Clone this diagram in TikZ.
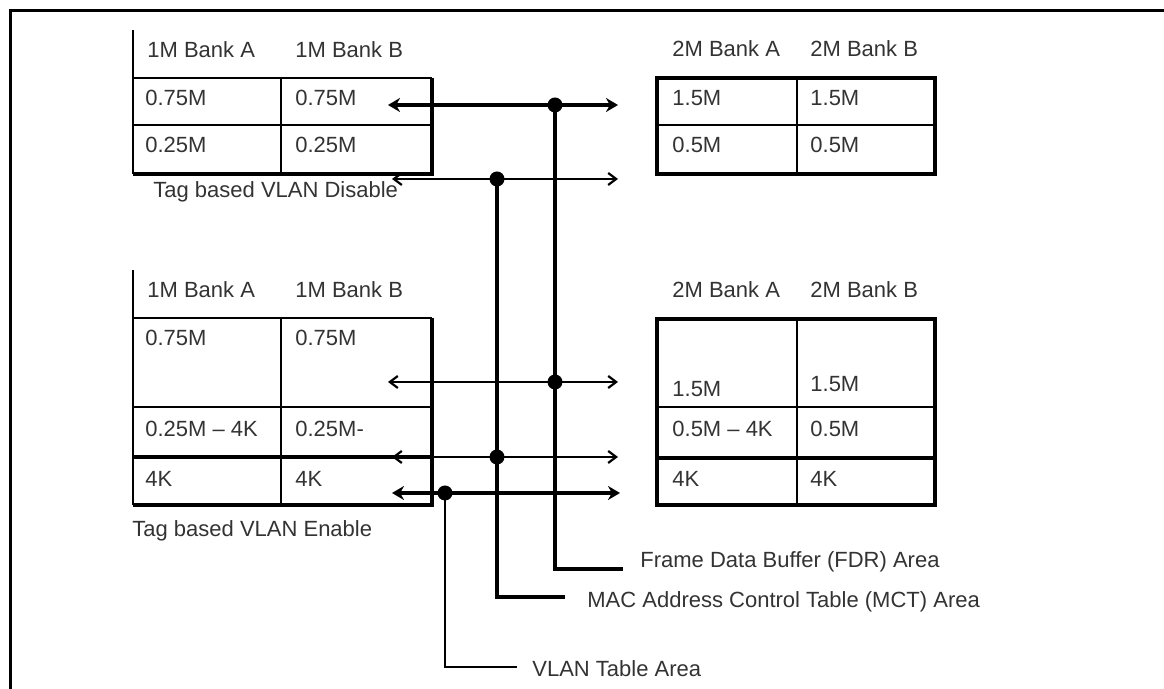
\documentclass[tikz,border=0pt]{standalone}
\usepackage{fontspec}
\setmainfont{Liberation Sans}
\usetikzlibrary{arrows.meta}

\begin{document}
\begin{tikzpicture}[x=0.5pt, y=-0.5pt,
  txt/.style={anchor=base west, inner sep=0pt, text=black!80, font=\fontsize{11}{13}\selectfont},
  thin line/.style={line width=1.1pt},
  thick line/.style={line width=2pt},
  wide bus/.style={line width=2pt, {Stealth[length=6pt,width=7pt]}-{Stealth[length=6pt,width=7pt]}},
  narrow bus/.style={line width=1.1pt, {Straight Barb[length=4pt,width=6pt]}-{Straight Barb[length=4pt,width=6pt]}},
  dot/.style={circle, fill, inner sep=0pt, minimum size=7.5pt}]
  \useasboundingbox (0,0) rectangle (1164,689);
  \clip (0,0) rectangle (1164,689);

  % frame
  \draw[line width=1.5pt] (10,700) -- (10,10.5) -- (1170,10.5);

  % 1M banks, tag based VLAN disabled
  \draw[thin line] (133,30) -- (133,174);
  \draw[thin line] (133,78) -- (432,78);
  \draw[thin line] (133,125) -- (432,125);
  \draw[thin line] (281,78) -- (281,174);
  \draw[thick line] (133,174) -- (432,174) -- (432,78);
  \node[txt] (dhA) at (147,58) {1M Bank A};
  \node[txt] (dhB) at (295,58) {1M Bank B};
  \node[txt] (dA1) at (145,106) {0.75M};
  \node[txt] (dB1) at (295,106) {0.75M};
  \node[txt] (dA2) at (145,153) {0.25M};
  \node[txt] (dB2) at (295,153) {0.25M};
  \node[txt] (dcap) at (153,198) {Tag based VLAN Disable};

  % 2M banks, tag based VLAN disabled
  \draw[thick line] (657,78) rectangle (935,174);
  \draw[thin line] (657,125) -- (935,125);
  \draw[thin line] (797,78) -- (797,174);
  \node[txt] (DhA) at (672,57) {2M Bank A};
  \node[txt] (DhB) at (810,57) {2M Bank B};
  \node[txt] (DA1) at (672,106) {1.5M};
  \node[txt] (DB1) at (810,106) {1.5M};
  \node[txt] (DA2) at (672,153) {0.5M};
  \node[txt] (DB2) at (810,153) {0.5M};

  % 1M banks, tag based VLAN enabled
  \draw[thin line] (133,270) -- (133,505);
  \draw[thin line] (133,318) -- (432,318);
  \draw[thin line] (133,407) -- (432,407);
  \draw[thin line] (281,318) -- (281,505);
  \draw[thick line] (133,457) -- (432,457);
  \draw[thick line] (133,505) -- (432,505) -- (432,318);
  \node[txt] (ehA) at (147,298) {1M Bank A};
  \node[txt] (ehB) at (295,298) {1M Bank B};
  \node[txt] (eA1) at (145,346) {0.75M};
  \node[txt] (eB1) at (295,346) {0.75M};
  \node[txt] (eA2) at (145,437) {0.25M – 4K};
  \node[txt] (eB2) at (295,437) {0.25M-};
  \node[txt] (eA3) at (145,487) {4K};
  \node[txt] (eB3) at (295,487) {4K};
  \node[txt] (ecap) at (132,537) {Tag based VLAN Enable};

  % 2M banks, tag based VLAN enabled
  \draw[thick line] (657,319) rectangle (935,505);
  \draw[thin line] (657,407) -- (935,407);
  \draw[thick line] (657,458) -- (935,458);
  \draw[thin line] (797,319) -- (797,505);
  \node[txt] (EhA) at (672,298) {2M Bank A};
  \node[txt] (EhB) at (810,298) {2M Bank B};
  \node[txt] (EA1) at (672,397) {1.5M};
  \node[txt] (EB1) at (810,392) {1.5M};
  \node[txt] (EA2) at (672,437) {0.5M – 4K};
  \node[txt] (EB2) at (810,437) {0.5M};
  \node[txt] (EA3) at (672,487) {4K};
  \node[txt] (EB3) at (810,487) {4K};

  % buses between the banks
  \coordinate (b1w) at (388,105); \coordinate (b1e) at (618,105);
  \coordinate (b2w) at (392,179); \coordinate (b2e) at (618,179);
  \coordinate (b3w) at (388,382); \coordinate (b3e) at (618,382);
  \coordinate (b4w) at (392,457); \coordinate (b4e) at (618,457);
  \coordinate (b5w) at (392,493); \coordinate (b5e) at (620,493);
  \draw[wide bus] (b1w) -- (b1e);
  \draw[narrow bus] (b2w) -- (b2e);
  \draw[narrow bus] (b3w) -- (b3e);
  \draw[narrow bus] (b4w) -- (b4e);
  \draw[wide bus] (b5w) -- (b5e);

  % area leaders
  \node[dot] (fdrtop) at (555,105) {};
  \node[dot] (mcttop) at (497,179) {};
  \node[dot] (fdrmid) at (555,382) {};
  \node[dot] (mctmid) at (497,457) {};
  \node[dot] (vlantop) at (445,493) {};
  \coordinate (fdrend) at (623,569);
  \coordinate (mctend) at (565,597);
  \coordinate (vlanend) at (517,667);
  \draw[thick line] (fdrtop.center) |- (fdrend);
  \draw[thick line] (mcttop.center) |- (mctend);
  \draw[thin line] (vlantop.center) |- (vlanend);
  \node[txt] (fdrlbl) at (640,568) {Frame Data Buffer (FDR) Area};
  \node[txt] (mctlbl) at (587,608) {MAC Address Control Table (MCT) Area};
  \node[txt] (vlanlbl) at (532,677) {VLAN Table Area};
\end{tikzpicture}
\end{document}
